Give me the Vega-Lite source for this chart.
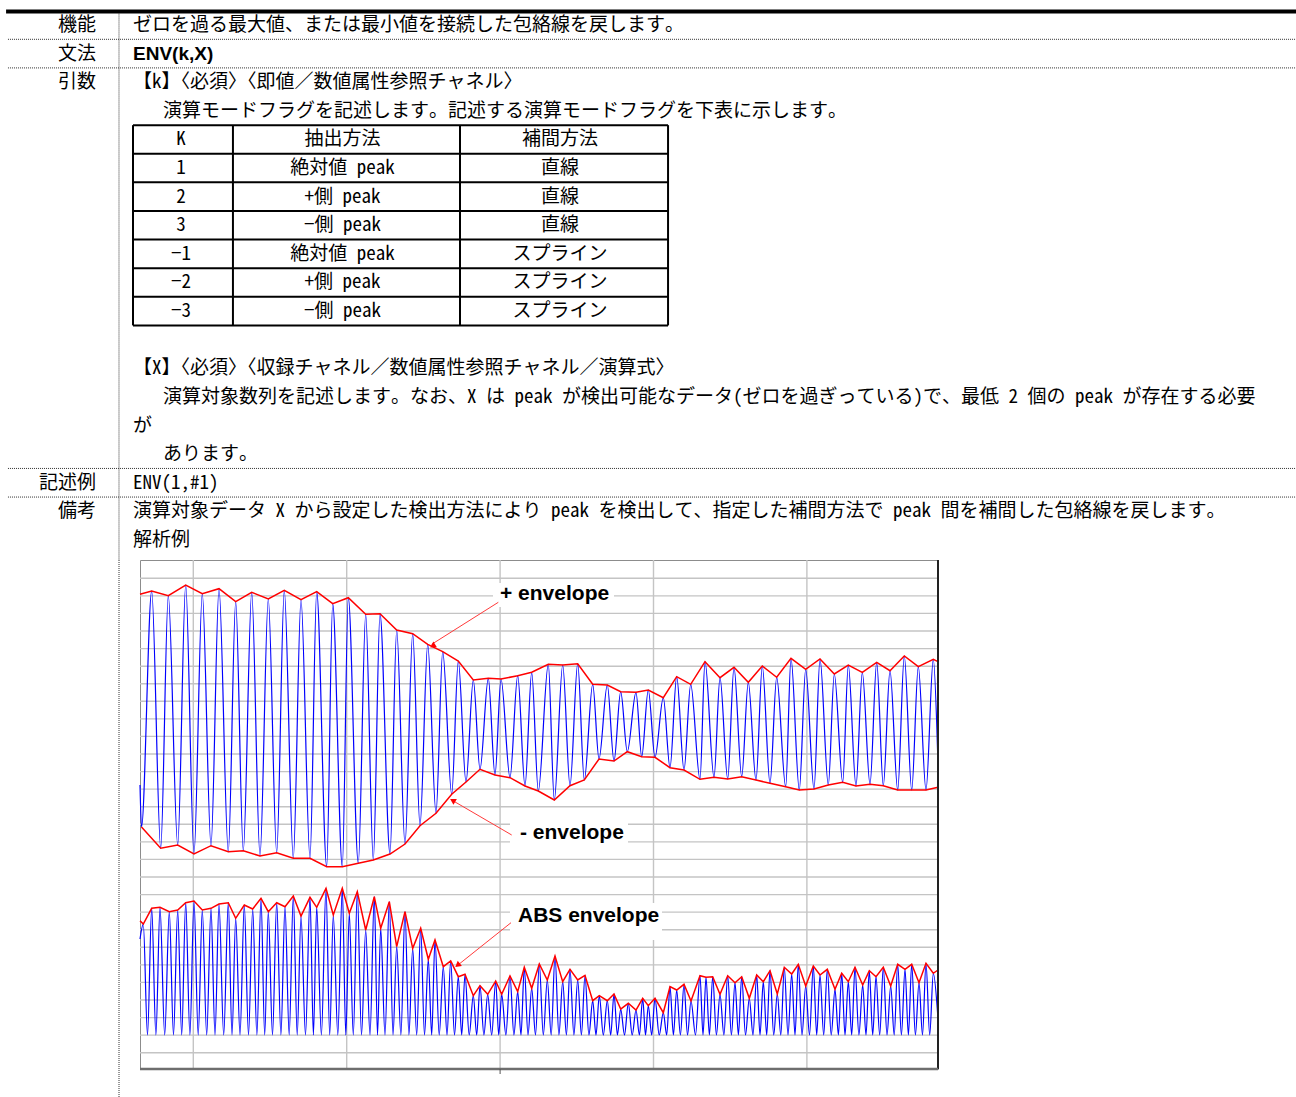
{
  "$schema": "https://vega.github.io/schema/vega-lite/v6.json",
  "padding": 0,
  "bounds": "flush",
  "spacing": 0,
  "config": {"view": {"stroke": null}, "concat": {"spacing": 0}},
  "datasets": {
    "doc": [
      {"line": 1, "indent": 0, "text": "ゼロを過る最大値、または最小値を接続した包絡線を戻します。"},
      {"line": 3, "indent": 0, "text": "【k】〈必須〉〈即値／数値属性参照チャネル〉"},
      {"line": 4, "indent": 1.58, "text": "演算モードフラグを記述します。記述する演算モードフラグを下表に示します。"},
      {"line": 13, "indent": 0, "text": "【X】〈必須〉〈収録チャネル／数値属性参照チャネル／演算式〉"},
      {"line": 14, "indent": 1.58, "text": "演算対象数列を記述します。なお、X は peak が検出可能なデータ(ゼロを過ぎっている)で、最低 2 個の peak が存在する必要"},
      {"line": 15, "indent": 0, "text": "が"},
      {"line": 16, "indent": 1.58, "text": "あります。"},
      {"line": 17, "indent": 0, "text": "ENV(1,#1)"},
      {"line": 18, "indent": 0, "text": "演算対象データ X から設定した検出方法により peak を検出して、指定した補間方法で peak 間を補間した包絡線を戻します。"},
      {"line": 19, "indent": 0, "text": "解析例"}
    ],
    "labels": [
      {"line": 1, "text": "機能"},
      {"line": 2, "text": "文法"},
      {"line": 3, "text": "引数"},
      {"line": 17, "text": "記述例"},
      {"line": 18, "text": "備考"}
    ],
    "syntax": [{"line": 2, "text": "ENV(k,X)"}],
    "seps": [{"line": 1.5}, {"line": 2.5}, {"line": 16.5}, {"line": 17.5}],
    "cols": [
      {"col": "k", "center": 2.53},
      {"col": "method", "center": 11.03},
      {"col": "interp", "center": 22.47}
    ],
    "tableH": [{"line": 4.5}, {"line": 5.5}, {"line": 6.5}, {"line": 7.5}, {"line": 8.5}, {"line": 9.5}, {"line": 10.5}, {"line": 11.5}],
    "tableV": [{"edge": 0}, {"edge": 5.26}, {"edge": 17.21}, {"edge": 28.16}],
    "cells": [
      {"line": 5, "col": "k", "text": "K"}, {"line": 5, "col": "method", "text": "抽出方法"}, {"line": 5, "col": "interp", "text": "補間方法"},
      {"line": 6, "col": "k", "text": "1"}, {"line": 6, "col": "method", "text": "絶対値 peak"}, {"line": 6, "col": "interp", "text": "直線"},
      {"line": 7, "col": "k", "text": "2"}, {"line": 7, "col": "method", "text": "+側 peak"}, {"line": 7, "col": "interp", "text": "直線"},
      {"line": 8, "col": "k", "text": "3"}, {"line": 8, "col": "method", "text": "−側 peak"}, {"line": 8, "col": "interp", "text": "直線"},
      {"line": 9, "col": "k", "text": "−1"}, {"line": 9, "col": "method", "text": "絶対値 peak"}, {"line": 9, "col": "interp", "text": "スプライン"},
      {"line": 10, "col": "k", "text": "−2"}, {"line": 10, "col": "method", "text": "+側 peak"}, {"line": 10, "col": "interp", "text": "スプライン"},
      {"line": 11, "col": "k", "text": "−3"}, {"line": 11, "col": "method", "text": "−側 peak"}, {"line": 11, "col": "interp", "text": "スプライン"}
    ],
    "gridX": [{"x": 53.3}, {"x": 206.7}, {"x": 360.1}, {"x": 513.5}, {"x": 666.9}],
    "gridY": [
      {"y": 16.3}, {"y": 33.9}, {"y": 51.4}, {"y": 69}, {"y": 86.6}, {"y": 104.1}, {"y": 121.7}, {"y": 139.3},
      {"y": 156.9}, {"y": 174.4}, {"y": 192}, {"y": 209.6}, {"y": 227.1}, {"y": 244.7}, {"y": 262.3}, {"y": 279.9},
      {"y": 297.4}, {"y": 315}, {"y": 332.6}, {"y": 350.1}, {"y": 367.7}, {"y": 385.3}, {"y": 402.8}, {"y": 420.4},
      {"y": 438}, {"y": 455.6}, {"y": 473.1}, {"y": 490.7}
    ],
    "top": [
      {"s": "upEdge", "x": 0, "y": 474.7}, {"s": "upEdge", "x": 798, "y": 407.3},
      {"s": "loEdge", "x": 798, "y": 281.7},
      {"s": "waveEdge", "x": 0, "y": 284}, {"s": "waveEdge", "x": 798, "y": 304},
      {"s": "up", "x": 11.7, "y": 478}, {"s": "up", "x": 28.3, "y": 473.3}, {"s": "up", "x": 45.7, "y": 484}, {"s": "up", "x": 62.3, "y": 475.3},
      {"s": "up", "x": 79, "y": 480.3}, {"s": "up", "x": 95.7, "y": 467.3}, {"s": "up", "x": 111.7, "y": 476.7}, {"s": "up", "x": 128.3, "y": 470},
      {"s": "up", "x": 144.3, "y": 478.7}, {"s": "up", "x": 161, "y": 469.3}, {"s": "up", "x": 176.7, "y": 477.3}, {"s": "up", "x": 192.7, "y": 465.3},
      {"s": "up", "x": 208.3, "y": 471.3}, {"s": "up", "x": 225.7, "y": 454.7}, {"s": "up", "x": 240, "y": 455.3}, {"s": "up", "x": 256.7, "y": 439},
      {"s": "up", "x": 272.7, "y": 435.3}, {"s": "up", "x": 287.7, "y": 424.7}, {"s": "up", "x": 302.7, "y": 417.3}, {"s": "up", "x": 318.3, "y": 408},
      {"s": "up", "x": 333.3, "y": 389}, {"s": "up", "x": 348.3, "y": 390.7}, {"s": "up", "x": 361, "y": 390}, {"s": "up", "x": 377.7, "y": 393.3},
      {"s": "up", "x": 391.7, "y": 396.7}, {"s": "up", "x": 408.3, "y": 404.7}, {"s": "up", "x": 422.7, "y": 404}, {"s": "up", "x": 437.7, "y": 405.3},
      {"s": "up", "x": 452.7, "y": 384.7}, {"s": "up", "x": 467.3, "y": 384}, {"s": "up", "x": 480.7, "y": 377.3}, {"s": "up", "x": 496, "y": 376.7},
      {"s": "up", "x": 508.3, "y": 379}, {"s": "up", "x": 523.3, "y": 371.3}, {"s": "up", "x": 536.7, "y": 392.3}, {"s": "up", "x": 550.7, "y": 384.7},
      {"s": "up", "x": 565, "y": 407.3}, {"s": "up", "x": 580, "y": 391.3}, {"s": "up", "x": 594, "y": 401.7}, {"s": "up", "x": 608.3, "y": 386.7},
      {"s": "up", "x": 622.3, "y": 403}, {"s": "up", "x": 636.7, "y": 391.7}, {"s": "up", "x": 651, "y": 410.7}, {"s": "up", "x": 665.7, "y": 399.7},
      {"s": "up", "x": 680, "y": 410}, {"s": "up", "x": 694.3, "y": 395}, {"s": "up", "x": 708.3, "y": 404}, {"s": "up", "x": 722.3, "y": 396.7},
      {"s": "up", "x": 736.7, "y": 406.7}, {"s": "up", "x": 750, "y": 398.3}, {"s": "up", "x": 764.3, "y": 413}, {"s": "up", "x": 778.3, "y": 402.3},
      {"s": "up", "x": 793.3, "y": 409.7},
      {"s": "lo", "x": 1.5, "y": 242}, {"s": "lo", "x": 20.7, "y": 220.7}, {"s": "lo", "x": 37.7, "y": 224}, {"s": "lo", "x": 54, "y": 215},
      {"s": "lo", "x": 71, "y": 223.3}, {"s": "lo", "x": 88.3, "y": 217.3}, {"s": "lo", "x": 103.3, "y": 218.3}, {"s": "lo", "x": 120, "y": 213},
      {"s": "lo", "x": 136.7, "y": 216.3}, {"s": "lo", "x": 153.3, "y": 210.7}, {"s": "lo", "x": 170, "y": 210.7}, {"s": "lo", "x": 186.7, "y": 202.3},
      {"s": "lo", "x": 202.3, "y": 202.3}, {"s": "lo", "x": 218.3, "y": 205.7}, {"s": "lo", "x": 233.3, "y": 209}, {"s": "lo", "x": 250, "y": 215},
      {"s": "lo", "x": 265, "y": 225}, {"s": "lo", "x": 280, "y": 243.3}, {"s": "lo", "x": 296, "y": 255.7}, {"s": "lo", "x": 311.7, "y": 274.7},
      {"s": "lo", "x": 326, "y": 287}, {"s": "lo", "x": 340, "y": 299.7}, {"s": "lo", "x": 355, "y": 294}, {"s": "lo", "x": 370, "y": 291.3},
      {"s": "lo", "x": 385, "y": 283}, {"s": "lo", "x": 398.3, "y": 278}, {"s": "lo", "x": 414.3, "y": 269}, {"s": "lo", "x": 430, "y": 283.3},
      {"s": "lo", "x": 444.3, "y": 289}, {"s": "lo", "x": 459, "y": 310}, {"s": "lo", "x": 474, "y": 308}, {"s": "lo", "x": 487.3, "y": 317.3},
      {"s": "lo", "x": 501.7, "y": 312.3}, {"s": "lo", "x": 515, "y": 311.7}, {"s": "lo", "x": 530, "y": 301.3}, {"s": "lo", "x": 544, "y": 299},
      {"s": "lo", "x": 560, "y": 289.7}, {"s": "lo", "x": 574, "y": 291.7}, {"s": "lo", "x": 587.7, "y": 290}, {"s": "lo", "x": 601.7, "y": 292.3},
      {"s": "lo", "x": 616, "y": 289}, {"s": "lo", "x": 630, "y": 285.7}, {"s": "lo", "x": 645.7, "y": 282.3}, {"s": "lo", "x": 659.3, "y": 279},
      {"s": "lo", "x": 674, "y": 280}, {"s": "lo", "x": 688.3, "y": 284}, {"s": "lo", "x": 702.7, "y": 286.7}, {"s": "lo", "x": 716, "y": 283},
      {"s": "lo", "x": 730, "y": 284.7}, {"s": "lo", "x": 743.3, "y": 283.3}, {"s": "lo", "x": 757.7, "y": 279}, {"s": "lo", "x": 771.7, "y": 279},
      {"s": "lo", "x": 786, "y": 279}
    ],
    "abs": [
      {"s": "envEdge", "x": 0, "y": 148.3}, {"s": "envEdge", "x": 798, "y": 99},
      {"s": "waveEdge", "x": 0, "y": 130}, {"s": "waveEdge", "x": 798, "y": 50},
      {"s": "pk", "x": 3.3, "y": 145}, {"s": "z", "x": 7.5, "y": 34}, {"s": "pk", "x": 11.7, "y": 160.7}, {"s": "z", "x": 15.9, "y": 34},
      {"s": "pk", "x": 20, "y": 161.7}, {"s": "z", "x": 24.7, "y": 34}, {"s": "pk", "x": 29.3, "y": 157.3}, {"s": "z", "x": 33.5, "y": 34},
      {"s": "pk", "x": 37.7, "y": 159}, {"s": "z", "x": 41.7, "y": 34}, {"s": "pk", "x": 45.7, "y": 166.3}, {"s": "z", "x": 49.9, "y": 34},
      {"s": "pk", "x": 54, "y": 168}, {"s": "z", "x": 58.2, "y": 34}, {"s": "pk", "x": 62.3, "y": 159}, {"s": "z", "x": 66.7, "y": 34},
      {"s": "pk", "x": 71, "y": 160.7}, {"s": "z", "x": 75, "y": 34}, {"s": "pk", "x": 79, "y": 165}, {"s": "z", "x": 83.7, "y": 34},
      {"s": "pk", "x": 88.3, "y": 166.3}, {"s": "z", "x": 92, "y": 34}, {"s": "pk", "x": 95.7, "y": 150.7}, {"s": "z", "x": 100, "y": 34},
      {"s": "pk", "x": 104.3, "y": 164}, {"s": "z", "x": 108.5, "y": 34}, {"s": "pk", "x": 112.7, "y": 160}, {"s": "z", "x": 116.9, "y": 34},
      {"s": "pk", "x": 121, "y": 170.7}, {"s": "z", "x": 124.7, "y": 34}, {"s": "pk", "x": 128.3, "y": 157.3}, {"s": "z", "x": 132.5, "y": 34},
      {"s": "pk", "x": 136.7, "y": 166.3}, {"s": "z", "x": 140.9, "y": 34}, {"s": "pk", "x": 145, "y": 162.3}, {"s": "z", "x": 149.2, "y": 34},
      {"s": "pk", "x": 153.3, "y": 173}, {"s": "z", "x": 157.2, "y": 34}, {"s": "pk", "x": 161, "y": 153}, {"s": "z", "x": 165.5, "y": 34},
      {"s": "pk", "x": 170, "y": 171.7}, {"s": "z", "x": 173.4, "y": 34}, {"s": "pk", "x": 176.7, "y": 161.7}, {"s": "z", "x": 181.4, "y": 34},
      {"s": "pk", "x": 186, "y": 180.7}, {"s": "z", "x": 189.7, "y": 34}, {"s": "pk", "x": 193.3, "y": 154}, {"s": "z", "x": 197.8, "y": 34},
      {"s": "pk", "x": 202.3, "y": 180.7}, {"s": "z", "x": 205.8, "y": 34}, {"s": "pk", "x": 209.3, "y": 155.7}, {"s": "z", "x": 213.3, "y": 34},
      {"s": "pk", "x": 217.3, "y": 177.3}, {"s": "z", "x": 221.5, "y": 34}, {"s": "pk", "x": 225.7, "y": 139}, {"s": "z", "x": 230, "y": 34},
      {"s": "pk", "x": 234.3, "y": 172.3}, {"s": "z", "x": 237.5, "y": 34}, {"s": "pk", "x": 240.7, "y": 140.7}, {"s": "z", "x": 245, "y": 34},
      {"s": "pk", "x": 249.3, "y": 167.3}, {"s": "z", "x": 253, "y": 34}, {"s": "pk", "x": 256.7, "y": 122.3}, {"s": "z", "x": 260.9, "y": 34},
      {"s": "pk", "x": 265, "y": 157.3}, {"s": "z", "x": 268.9, "y": 34}, {"s": "pk", "x": 272.7, "y": 120.7}, {"s": "z", "x": 276.7, "y": 34},
      {"s": "pk", "x": 280.7, "y": 140.7}, {"s": "z", "x": 284.5, "y": 34}, {"s": "pk", "x": 288.3, "y": 109.7}, {"s": "z", "x": 291.7, "y": 34},
      {"s": "pk", "x": 295, "y": 129}, {"s": "z", "x": 299.2, "y": 34}, {"s": "pk", "x": 303.3, "y": 102.3}, {"s": "z", "x": 307, "y": 34},
      {"s": "pk", "x": 310.7, "y": 108}, {"s": "z", "x": 314.5, "y": 34}, {"s": "pk", "x": 318.3, "y": 92.3}, {"s": "z", "x": 321.7, "y": 34},
      {"s": "pk", "x": 325, "y": 94.7}, {"s": "z", "x": 329.2, "y": 34}, {"s": "pk", "x": 333.3, "y": 73.3}, {"s": "z", "x": 336.7, "y": 34},
      {"s": "pk", "x": 340, "y": 83.3}, {"s": "z", "x": 343.9, "y": 34}, {"s": "pk", "x": 347.7, "y": 74.7}, {"s": "z", "x": 351.7, "y": 34},
      {"s": "pk", "x": 355.7, "y": 88}, {"s": "z", "x": 358.7, "y": 34}, {"s": "pk", "x": 361.7, "y": 74.7}, {"s": "z", "x": 365.9, "y": 34},
      {"s": "pk", "x": 370, "y": 93}, {"s": "z", "x": 373.9, "y": 34}, {"s": "pk", "x": 377.7, "y": 77.3}, {"s": "z", "x": 381, "y": 34},
      {"s": "pk", "x": 384.3, "y": 101.7}, {"s": "z", "x": 388, "y": 34}, {"s": "pk", "x": 391.7, "y": 80.7}, {"s": "z", "x": 395.5, "y": 34},
      {"s": "pk", "x": 399.3, "y": 105}, {"s": "z", "x": 403.3, "y": 34}, {"s": "pk", "x": 407.3, "y": 89}, {"s": "z", "x": 411.2, "y": 34},
      {"s": "pk", "x": 415, "y": 113}, {"s": "z", "x": 418.9, "y": 34}, {"s": "pk", "x": 422.7, "y": 87.3}, {"s": "z", "x": 426.4, "y": 34},
      {"s": "pk", "x": 430, "y": 99.7}, {"s": "z", "x": 433.9, "y": 34}, {"s": "pk", "x": 437.7, "y": 89}, {"s": "z", "x": 441.4, "y": 34},
      {"s": "pk", "x": 445, "y": 93.7}, {"s": "z", "x": 448.9, "y": 34}, {"s": "pk", "x": 452.7, "y": 68.3}, {"s": "z", "x": 456, "y": 34},
      {"s": "pk", "x": 459.3, "y": 73.3}, {"s": "z", "x": 463.3, "y": 34}, {"s": "pk", "x": 467.3, "y": 68.3}, {"s": "z", "x": 470.7, "y": 34},
      {"s": "pk", "x": 474, "y": 75}, {"s": "z", "x": 477.4, "y": 34}, {"s": "pk", "x": 480.7, "y": 60}, {"s": "z", "x": 484.5, "y": 34},
      {"s": "pk", "x": 488.3, "y": 65.7}, {"s": "z", "x": 492.2, "y": 34}, {"s": "pk", "x": 496, "y": 59}, {"s": "z", "x": 499.4, "y": 34},
      {"s": "pk", "x": 502.7, "y": 70.7}, {"s": "z", "x": 505.5, "y": 34}, {"s": "pk", "x": 508.3, "y": 63.3}, {"s": "z", "x": 511.7, "y": 34},
      {"s": "pk", "x": 515, "y": 70.7}, {"s": "z", "x": 519.2, "y": 34}, {"s": "pk", "x": 523.3, "y": 56.3}, {"s": "z", "x": 526.7, "y": 34},
      {"s": "pk", "x": 530, "y": 82.3}, {"s": "z", "x": 533.4, "y": 34}, {"s": "pk", "x": 536.7, "y": 79}, {"s": "z", "x": 540.4, "y": 34},
      {"s": "pk", "x": 544, "y": 84.7}, {"s": "z", "x": 547.5, "y": 34}, {"s": "pk", "x": 551, "y": 68}, {"s": "z", "x": 555.5, "y": 34},
      {"s": "pk", "x": 560, "y": 93.3}, {"s": "z", "x": 563, "y": 34}, {"s": "pk", "x": 566, "y": 91.7}, {"s": "z", "x": 569.4, "y": 34},
      {"s": "pk", "x": 572.7, "y": 92.3}, {"s": "z", "x": 576.4, "y": 34}, {"s": "pk", "x": 580, "y": 74.7}, {"s": "z", "x": 583.9, "y": 34},
      {"s": "pk", "x": 587.7, "y": 93.3}, {"s": "z", "x": 591.4, "y": 34}, {"s": "pk", "x": 595, "y": 86.3}, {"s": "z", "x": 598.4, "y": 34},
      {"s": "pk", "x": 601.7, "y": 92.3}, {"s": "z", "x": 605.5, "y": 34}, {"s": "pk", "x": 609.3, "y": 70.7}, {"s": "z", "x": 613, "y": 34},
      {"s": "pk", "x": 616.7, "y": 94}, {"s": "z", "x": 620, "y": 34}, {"s": "pk", "x": 623.3, "y": 87.3}, {"s": "z", "x": 626.7, "y": 34},
      {"s": "pk", "x": 630, "y": 98.3}, {"s": "z", "x": 633.7, "y": 34}, {"s": "pk", "x": 637.3, "y": 75}, {"s": "z", "x": 640.8, "y": 34},
      {"s": "pk", "x": 644.3, "y": 101.7}, {"s": "z", "x": 648, "y": 34}, {"s": "pk", "x": 651.7, "y": 95}, {"s": "z", "x": 655, "y": 34},
      {"s": "pk", "x": 658.3, "y": 104.7}, {"s": "z", "x": 662, "y": 34}, {"s": "pk", "x": 665.7, "y": 83}, {"s": "z", "x": 669.5, "y": 34},
      {"s": "pk", "x": 673.3, "y": 103}, {"s": "z", "x": 676.7, "y": 34}, {"s": "pk", "x": 680, "y": 94}, {"s": "z", "x": 683.7, "y": 34},
      {"s": "pk", "x": 687.3, "y": 99.7}, {"s": "z", "x": 691.2, "y": 34}, {"s": "pk", "x": 695, "y": 79.7}, {"s": "z", "x": 698.4, "y": 34},
      {"s": "pk", "x": 701.7, "y": 95.7}, {"s": "z", "x": 705, "y": 34}, {"s": "pk", "x": 708.3, "y": 87.3}, {"s": "z", "x": 711.7, "y": 34},
      {"s": "pk", "x": 715, "y": 101.7}, {"s": "z", "x": 718.9, "y": 34}, {"s": "pk", "x": 722.7, "y": 84}, {"s": "z", "x": 726, "y": 34},
      {"s": "pk", "x": 729.3, "y": 98.3}, {"s": "z", "x": 732.7, "y": 34}, {"s": "pk", "x": 736, "y": 92.3}, {"s": "z", "x": 739.7, "y": 34},
      {"s": "pk", "x": 743.3, "y": 101.7}, {"s": "z", "x": 747, "y": 34}, {"s": "pk", "x": 750.7, "y": 83}, {"s": "z", "x": 754.2, "y": 34},
      {"s": "pk", "x": 757.7, "y": 104.7}, {"s": "z", "x": 761.4, "y": 34}, {"s": "pk", "x": 765, "y": 99.7}, {"s": "z", "x": 768.4, "y": 34},
      {"s": "pk", "x": 771.7, "y": 104.7}, {"s": "z", "x": 775.4, "y": 34}, {"s": "pk", "x": 779, "y": 86.3}, {"s": "z", "x": 782.5, "y": 34},
      {"s": "pk", "x": 786, "y": 105.7}, {"s": "z", "x": 789.7, "y": 34}, {"s": "pk", "x": 793.3, "y": 95.7}
    ],
    "notes": [
      {"label": "+ envelope", "x": 360, "y": 475},
      {"label": "- envelope", "x": 380, "y": 236},
      {"label": "ABS envelope", "x": 378, "y": 153}
    ],
    "boxes": [
      {"x": 353, "x2": 474, "y": 462, "y2": 486},
      {"x": 370, "x2": 488, "y": 221, "y2": 249},
      {"x": 370, "x2": 522, "y": 129, "y2": 166}
    ],
    "arrows": [
      {"a": 1, "x": 358.3, "y": 466.7}, {"a": 1, "x": 291.7, "y": 424.7},
      {"a": 2, "x": 371.7, "y": 234}, {"a": 2, "x": 311.7, "y": 269},
      {"a": 3, "x": 371, "y": 146.3}, {"a": 3, "x": 316.7, "y": 103}
    ],
    "heads": [
      {"a": 1, "x": 293.5, "y": 423.6},
      {"a": 2, "x": 313.5, "y": 268},
      {"a": 3, "x": 318.3, "y": 104.3}
    ]
  },
  "vconcat": [
    {
      "width": 1296,
      "height": 560,
      "layer": [
        {
          "data": {"values": [{}]},
          "mark": {"type": "rule", "color": "#000000", "strokeWidth": 4},
          "encoding": {
            "x": {"datum": -6.68, "type": "quantitative", "scale": {"domain": [-7, 61.21], "nice": false, "zero": false}, "axis": null},
            "x2": {"datum": 61.21},
            "y": {"datum": 0.53, "type": "quantitative", "scale": {"domain": [0.126, 19.7], "reverse": true, "nice": false, "zero": false}, "axis": null}
          }
        },
        {
          "data": {"name": "seps"},
          "mark": {"type": "rule", "color": "#333333", "strokeWidth": 1, "strokeDash": [1, 1]},
          "encoding": {
            "x": {"datum": -6.58, "type": "quantitative"},
            "x2": {"datum": 61.21},
            "y": {"field": "line", "type": "quantitative"}
          }
        },
        {
          "data": {"values": [{}]},
          "mark": {"type": "rule", "color": "#333333", "strokeWidth": 1, "strokeDash": [1, 1]},
          "encoding": {
            "x": {"datum": -0.737, "type": "quantitative"},
            "y": {"datum": 0.6, "type": "quantitative"},
            "y2": {"datum": 19.7}
          }
        },
        {
          "data": {"name": "tableH"},
          "mark": {"type": "rule", "color": "#000000", "strokeWidth": 2},
          "encoding": {
            "x": {"datum": 0, "type": "quantitative"},
            "x2": {"datum": 28.16},
            "y": {"field": "line", "type": "quantitative"}
          }
        },
        {
          "data": {"name": "tableV"},
          "mark": {"type": "rule", "color": "#000000", "strokeWidth": 2},
          "encoding": {
            "x": {"field": "edge", "type": "quantitative"},
            "y": {"datum": 4.5, "type": "quantitative"},
            "y2": {"datum": 11.5}
          }
        },
        {
          "data": {"name": "labels"},
          "mark": {"type": "text", "align": "right", "baseline": "middle", "font": "Noto Sans Mono CJK JP, Noto Sans CJK JP", "fontSize": 19, "color": "#000000"},
          "encoding": {
            "x": {"datum": -1.95, "type": "quantitative"},
            "y": {"field": "line", "type": "quantitative"},
            "text": {"field": "text"}
          }
        },
        {
          "data": {"name": "doc"},
          "mark": {"type": "text", "align": "left", "baseline": "middle", "font": "Noto Sans Mono CJK JP, Noto Sans CJK JP", "fontSize": 19, "color": "#000000"},
          "encoding": {
            "x": {"field": "indent", "type": "quantitative"},
            "y": {"field": "line", "type": "quantitative"},
            "text": {"field": "text"}
          }
        },
        {
          "data": {"name": "syntax"},
          "mark": {"type": "text", "align": "left", "baseline": "middle", "font": "Liberation Sans", "fontWeight": "bold", "fontSize": 19, "color": "#000000"},
          "encoding": {
            "x": {"datum": 0, "type": "quantitative"},
            "y": {"field": "line", "type": "quantitative"},
            "text": {"field": "text"}
          }
        },
        {
          "data": {"name": "cells"},
          "transform": [
            {"lookup": "col", "from": {"data": {"name": "cols"}, "key": "col", "fields": ["center"]}}
          ],
          "mark": {"type": "text", "align": "center", "baseline": "middle", "font": "Noto Sans Mono CJK JP, Noto Sans CJK JP", "fontSize": 19, "color": "#000000"},
          "encoding": {
            "x": {"field": "center", "type": "quantitative"},
            "y": {"field": "line", "type": "quantitative"},
            "text": {"field": "text"}
          }
        }
      ]
    },
    {
      "bounds": "flush",
      "spacing": 0,
      "hconcat": [
        {
          "width": 140,
          "height": 537,
          "data": {"values": [{}]},
          "mark": {"type": "rule", "color": "#333333", "strokeWidth": 1, "strokeDash": [1, 1]},
          "encoding": {
            "x": {"datum": -0.737, "type": "quantitative", "scale": {"domain": [-7, 0.368], "nice": false, "zero": false}, "axis": null}
          }
        },
        {
          "width": 798,
          "height": 509,
          "view": {"stroke": "#8c8c8c", "strokeWidth": 1},
          "layer": [
            {
              "data": {"name": "gridY"},
              "mark": {"type": "rule", "color": "#c4c4c4", "strokeWidth": 1.4},
              "encoding": {
                "y": {"field": "y", "type": "quantitative", "scale": {"domain": [0, 509], "nice": false, "zero": false}, "axis": null}
              }
            },
            {
              "data": {"name": "gridX"},
              "mark": {"type": "rule", "color": "#c4c4c4", "strokeWidth": 1.4},
              "encoding": {
                "x": {"field": "x", "type": "quantitative", "scale": {"domain": [0, 798], "nice": false, "zero": false}, "axis": null}
              }
            },
            {
              "data": {"name": "boxes"},
              "mark": {"type": "rect", "color": "#ffffff"},
              "encoding": {
                "x": {"field": "x", "type": "quantitative"},
                "x2": {"field": "x2"},
                "y": {"field": "y", "type": "quantitative"},
                "y2": {"field": "y2"}
              }
            },
            {
              "data": {"name": "abs"},
              "transform": [{"filter": {"field": "s", "oneOf": ["pk", "z", "waveEdge"]}}],
              "mark": {"type": "line", "interpolate": "monotone", "color": "#0000ff", "strokeWidth": 1.2},
              "encoding": {
                "x": {"field": "x", "type": "quantitative"},
                "y": {"field": "y", "type": "quantitative"}
              }
            },
            {
              "data": {"name": "abs"},
              "transform": [{"filter": {"field": "s", "oneOf": ["pk", "envEdge"]}}],
              "mark": {"type": "line", "color": "#ff0000", "strokeWidth": 1.5},
              "encoding": {
                "x": {"field": "x", "type": "quantitative"},
                "y": {"field": "y", "type": "quantitative"}
              }
            },
            {
              "data": {"name": "top"},
              "transform": [{"filter": {"field": "s", "oneOf": ["up", "lo", "waveEdge"]}}],
              "mark": {"type": "line", "interpolate": "monotone", "color": "#0000ff", "strokeWidth": 1.2},
              "encoding": {
                "x": {"field": "x", "type": "quantitative"},
                "y": {"field": "y", "type": "quantitative"}
              }
            },
            {
              "data": {"name": "top"},
              "transform": [{"filter": {"field": "s", "oneOf": ["up", "upEdge"]}}],
              "mark": {"type": "line", "color": "#ff0000", "strokeWidth": 1.5},
              "encoding": {
                "x": {"field": "x", "type": "quantitative"},
                "y": {"field": "y", "type": "quantitative"}
              }
            },
            {
              "data": {"name": "top"},
              "transform": [{"filter": {"field": "s", "oneOf": ["lo", "loEdge"]}}],
              "mark": {"type": "line", "color": "#ff0000", "strokeWidth": 1.5},
              "encoding": {
                "x": {"field": "x", "type": "quantitative"},
                "y": {"field": "y", "type": "quantitative"}
              }
            },
            {
              "data": {"name": "arrows"},
              "mark": {"type": "line", "color": "#ff3a3a", "strokeWidth": 1},
              "encoding": {
                "x": {"field": "x", "type": "quantitative"},
                "y": {"field": "y", "type": "quantitative"},
                "detail": {"field": "a"}
              }
            },
            {
              "data": {"name": "heads"},
              "transform": [{"filter": "datum.a == 1"}],
              "mark": {"type": "point", "shape": "triangle", "angle": 237.8, "filled": true, "color": "#ff0000", "opacity": 1, "size": 45},
              "encoding": {
                "x": {"field": "x", "type": "quantitative"},
                "y": {"field": "y", "type": "quantitative"}
              }
            },
            {
              "data": {"name": "heads"},
              "transform": [{"filter": "datum.a == 2"}],
              "mark": {"type": "point", "shape": "triangle", "angle": 300.3, "filled": true, "color": "#ff0000", "opacity": 1, "size": 45},
              "encoding": {
                "x": {"field": "x", "type": "quantitative"},
                "y": {"field": "y", "type": "quantitative"}
              }
            },
            {
              "data": {"name": "heads"},
              "transform": [{"filter": "datum.a == 3"}],
              "mark": {"type": "point", "shape": "triangle", "angle": 231.4, "filled": true, "color": "#ff0000", "opacity": 1, "size": 45},
              "encoding": {
                "x": {"field": "x", "type": "quantitative"},
                "y": {"field": "y", "type": "quantitative"}
              }
            },
            {
              "data": {"name": "notes"},
              "mark": {"type": "text", "align": "left", "baseline": "middle", "font": "Liberation Sans", "fontWeight": "bold", "fontSize": 21, "color": "#000000"},
              "encoding": {
                "x": {"field": "x", "type": "quantitative"},
                "y": {"field": "y", "type": "quantitative"},
                "text": {"field": "label"}
              }
            },
            {
              "data": {"values": [{}]},
              "mark": {"type": "rule", "color": "#222222", "strokeWidth": 2},
              "encoding": {"x": {"datum": 798, "type": "quantitative"}}
            },
            {
              "data": {"values": [{}]},
              "mark": {"type": "rule", "color": "#6e6e6e", "strokeWidth": 2.5},
              "encoding": {"y": {"datum": 0, "type": "quantitative"}}
            },
            {
              "data": {"values": [{}]},
              "mark": {"type": "rule", "color": "#555555", "strokeWidth": 1},
              "encoding": {
                "x": {"datum": 360.1, "type": "quantitative"},
                "y": {"datum": -5, "type": "quantitative"},
                "y2": {"datum": 0}
              }
            }
          ]
        }
      ]
    }
  ]
}
